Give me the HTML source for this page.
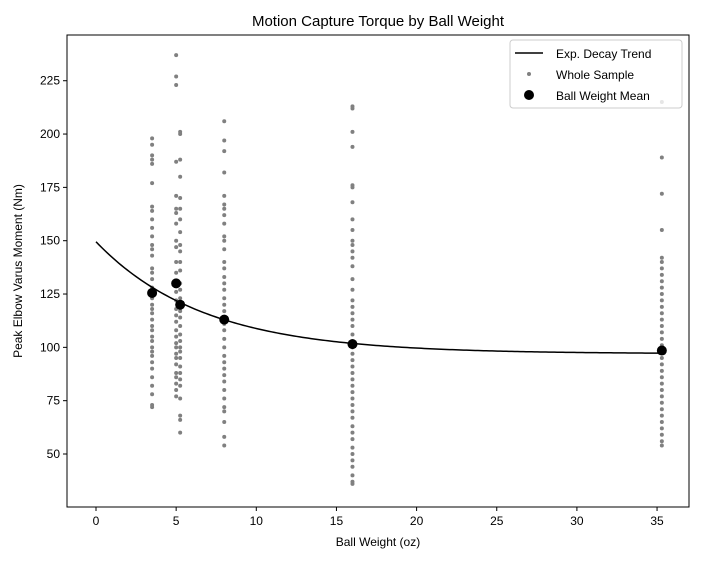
<!DOCTYPE html>
<html><head><meta charset="utf-8"><style>
body{margin:0;background:#fff;font-family:"Liberation Sans","DejaVu Sans",sans-serif}
svg text{font-family:"Liberation Sans","DejaVu Sans",sans-serif;fill:#000}
</style></head><body>
<svg id="chart" width="708" height="556" xmlns="http://www.w3.org/2000/svg">
<text x="378" y="26" font-size="15" text-anchor="middle">Motion Capture Torque by Ball Weight</text>
<g id="plot"></g>
<rect x="67" y="35" width="622" height="472" fill="none" stroke="#000" stroke-width="1"/>
<g id="xticks"></g><g id="yticks"></g>
<text x="378" y="546" font-size="12" text-anchor="middle">Ball Weight (oz)</text>
<text transform="translate(22,271) rotate(-90)" font-size="12" text-anchor="middle">Peak Elbow Varus Moment (Nm)</text>
<g>
<rect x="510" y="40" width="172" height="68" rx="3" fill="#fff" fill-opacity="0.8" stroke="#ccc"/>
<line x1="515" y1="53" x2="543" y2="53" stroke="#000" stroke-width="1.5"/>
<text x="556" y="58" font-size="12">Exp. Decay Trend</text>
<circle cx="529" cy="74" r="2" fill="#808080"/>
<text x="556" y="79" font-size="12">Whole Sample</text>
<circle cx="529" cy="95" r="5" fill="#000"/>
<text x="556" y="100" font-size="12">Ball Weight Mean</text>
</g>
</svg>
<script>
const weights=[3.5,5,5.25,8,16,35.3];
const samples=[
[198,195,190,188,186,177,166,164,160,156,152,148,146,143,137,135,132,128,126,123,120,118,116,113,110,108,105,103,100,98,96,93,90,86,82,78,73,72],
[237,227,223,187,171,165,163,158,150,147,140,135,130,126,122,118,115,112,108,105,102,100,97,95,92,88,86,83,80,77],
[201,200,188,180,170,165,160,154,148,145,140,136,130,127,123,120,117,114,110,106,103,100,98,95,91,88,85,82,76,68,66,60],
[206,197,192,182,171,167,165,162,158,152,150,146,140,137,133,130,127,123,120,117,114,111,108,104,100,96,93,90,87,84,80,76,72,70,65,58,54],
[213,212,201,194,176,175,168,160,155,150,148,145,142,138,132,127,122,119,116,113,110,106,103,100,97,94,91,88,85,82,79,76,73,70,67,63,60,57,53,50,47,44,40,37,36],
[215,189,172,155,142,140,137,134,131,128,125,122,119,116,113,110,107,104,101,98,95,92,89,86,83,80,77,74,71,68,65,62,59,56,54]];
const means=[125.5,130,120,113,101.5,98.5];
const trendParams=[97,52.5,0.149];
const xTicks=[0,5,10,15,20,25,30,35];
const yTicks=[50,75,100,125,150,175,200,225];
const NS="http://www.w3.org/2000/svg";
const X=v=>96+v*16.03, Y=v=>454-(v-50)*2.133;
function mk(t,a,p){const e=document.createElementNS(NS,t);for(const k in a)e.setAttribute(k,a[k]);p.appendChild(e);return e;}
const plot=document.getElementById('plot');
samples.forEach((arr,i)=>arr.forEach(v=>{
const c=mk('circle',{cx:X(weights[i]),cy:Y(v),r:2,fill:'#808080'},plot);


}));
let d='';for(let i=0;i<=200;i++){const x=35.3*i/200;const y=trendParams[0]+trendParams[1]*Math.exp(-trendParams[2]*x);d+=(i?'L':'M')+X(x).toFixed(2)+','+Y(y).toFixed(2);}
const tl=mk('path',{d:d,fill:'none',stroke:'#000','stroke-width':1.5},plot);


means.forEach((m,i)=>{const c=mk('circle',{cx:X(weights[i]),cy:Y(m),r:5,fill:'#000'},plot);

});
const xg=document.getElementById('xticks');
xTicks.forEach(t=>{const x=X(t);mk('line',{x1:x,x2:x,y1:507,y2:511,stroke:'#000'},xg);
const tx=mk('text',{x:x,y:525,'font-size':12,'text-anchor':'middle'},xg);tx.textContent=t;

});
const yg=document.getElementById('yticks');
yTicks.forEach(t=>{const y=Y(t);mk('line',{x1:63,x2:67,y1:y,y2:y,stroke:'#000'},yg);
const tx=mk('text',{x:60,y:y+4,'font-size':12,'text-anchor':'end'},yg);tx.textContent=t;

});
</script>
</body></html>
